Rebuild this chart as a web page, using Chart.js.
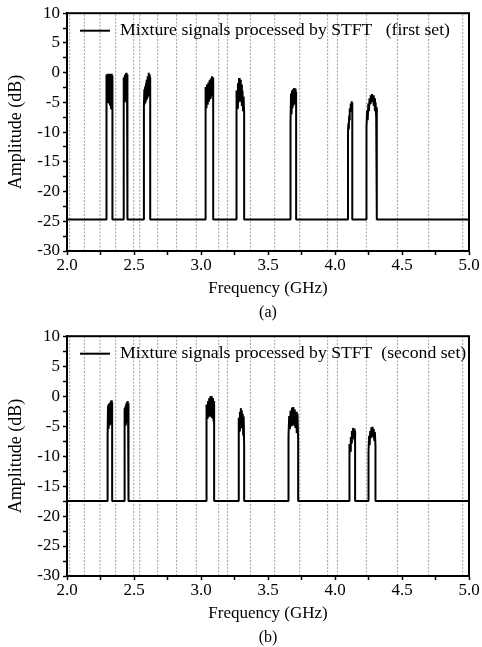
<!DOCTYPE html>
<html>
<head>
<meta charset="utf-8">
<script src="https://cdn.jsdelivr.net/npm/chart.js@4.4.1/dist/chart.umd.min.js"></script>
<style>
  html, body { margin: 0; padding: 0; background: #fff; }
  #wrap { position: relative; width: 482px; height: 647px; }
  #c1 { position: absolute; left: 0; top: 0; }
  #c2 { position: absolute; left: 0; top: 323px; }
</style>
</head>
<body>
<div id="wrap">
  <canvas id="c1" width="482" height="323"></canvas>
  <canvas id="c2" width="482" height="324"></canvas>
</div>
<script>
// ---------- data ----------
const xTickValues = [2.0, 2.5, 3.0, 3.5, 4.0, 4.5, 5.0];
const yTickValues = [-30, -25, -20, -15, -10, -5, 0, 5, 10];

// dotted vertical marker lines (GHz), same in both panels
const markerFreqs = [2.02, 2.13, 2.246, 2.363, 2.498, 2.543, 2.677, 2.818, 2.965,
                     3.132, 3.197, 3.369, 3.55, 3.737, 3.945, 4.018, 4.234, 4.466, 4.699, 4.953];

// (a) first set
const baselineA = -24.7;
const bandEdgesA = [[2.293, 2.339], [2.422, 2.451], [2.574, 2.621], [3.032, 3.091],
                    [3.263, 3.322], [3.668, 3.710], [4.097, 4.129], [4.235, 4.312]];
const bandLevelsA = [
  [-2.8, -0.3, -4.8, -0.2, -5.0, -0.4, -4.5, -0.2, -5.5, -0.3, -6.0, -0.2, -6.1, -0.5],
  [-6.7, -0.8, -4.8, -0.5, -5.0, -0.3, -4.5, -0.1, -4.6, 0.0, -5.2, -0.3],
  [-5.8, -2.8, -5.3, -2.3, -5.0, -1.8, -4.6, -1.2, -4.2, -0.6, -3.8, 0.0, -3.6, -0.3, -3.8, -0.8],
  [-6.5, -2.4, -6.0, -2.0, -5.4, -1.7, -4.9, -1.3, -4.3, -1.0, -3.8, -0.6, -3.3, -0.8],
  [-11.0, -3.0, -6.0, -1.8, -5.0, -0.9, -4.8, -1.2, -4.9, -2.0, -5.6, -3.0, -6.4, -4.0, -6.8],
  [-8.4, -3.5, -7.0, -3.0, -6.0, -2.8, -5.5, -2.6, -5.3, -2.7, -5.0, -3.2],
  [-10.0, -8.5, -9.5, -7.2, -8.0, -6.0, -6.5, -5.2, -5.8, -4.8, -5.3, -5.0],
  [-9.2, -6.4, -8.0, -5.2, -6.5, -4.3, -5.2, -3.8, -4.8, -3.6, -4.9, -3.8, -5.6, -4.3, -6.5, -5.0, -7.5, -5.8]
];

// (b) second set
const baselineB = -17.5;
const bandEdgesB = [[2.303, 2.337], [2.427, 2.459], [3.039, 3.098], [3.280, 3.322],
                    [3.653, 3.725], [4.106, 4.150], [4.250, 4.302]];
const bandLevelsB = [
  [-6.6, -1.6, -5.5, -1.3, -4.8, -1.1, -4.6, -0.9, -4.4, -0.7, -4.2, -1.0],
  [-6.0, -2.0, -5.4, -1.7, -4.9, -1.3, -4.5, -1.0, -4.4, -0.8, -4.2, -1.2],
  [-4.2, -1.4, -3.8, -0.8, -3.5, -0.3, -3.3, 0.0, -3.4, 0.0, -3.6, -0.3, -4.2, -0.8],
  [-8.5, -3.6, -5.8, -2.6, -5.2, -2.0, -5.0, -2.4, -5.3, -3.0, -6.5, -3.4, -8.3],
  [-6.6, -3.3, -5.5, -2.4, -4.9, -1.9, -4.7, -1.8, -4.8, -2.2, -5.3, -2.6, -6.2, -3.0, -7.2],
  [-10.4, -8.0, -9.2, -6.8, -7.8, -5.8, -7.0, -5.3, -6.8, -5.4, -7.4, -5.8],
  [-9.4, -6.6, -8.2, -5.8, -7.0, -5.2, -6.6, -5.1, -6.8, -5.5, -7.4, -6.0, -8.3]
];

const legendTextA = 'Mixture signals processed by STFT   (first set)';
const legendTextB = 'Mixture signals processed by STFT  (second set)';
const xTitle = 'Frequency (GHz)';
const yTitle = 'Amplitude (dB)';
const captionA = '(a)';
const captionB = '(b)';
const X_MIN = 2, X_MAX = 5, Y_MIN = -30, Y_MAX = 10;

// ---------- build helpers ----------
function buildSeries(baseline, edges, levels) {
  const pts = [{ x: X_MIN, y: baseline }];
  edges.forEach(([s, e], i) => {
    const vals = levels[i];
    const n = vals.length;
    pts.push({ x: s, y: baseline });
    vals.forEach((v, j) => pts.push({ x: s + (e - s) * j / (n - 1), y: v }));
    pts.push({ x: e, y: baseline });
  });
  pts.push({ x: X_MAX, y: baseline });
  return pts;
}

const FONT = "'Liberation Serif', 'Times New Roman', serif";

const framePlugin = {
  id: 'frame',
  afterDatasetsDraw(chart) {
    const { ctx, chartArea: a } = chart;
    ctx.save();
    ctx.strokeStyle = '#000';
    ctx.lineWidth = 2;
    ctx.strokeRect(a.left, a.top, a.right - a.left, a.bottom - a.top);
    ctx.restore();
  }
};

const inLegendPlugin = {
  id: 'inLegend',
  afterDraw(chart, args, opts) {
    const { ctx, chartArea: a } = chart;
    const y = a.top + 17.5;
    ctx.save();
    ctx.strokeStyle = '#000';
    ctx.lineWidth = 2;
    ctx.beginPath();
    ctx.moveTo(a.left + 13, y);
    ctx.lineTo(a.left + 43, y);
    ctx.stroke();
    ctx.fillStyle = '#000';
    ctx.font = '17px ' + FONT;
    ctx.textBaseline = 'middle';
    ctx.textAlign = 'left';
    ctx.translate(a.left + 53, y);
    ctx.scale(1.04, 1);
    ctx.fillText(opts.text, 0, 0);
    ctx.restore();
  }
};

function makeChart(id, series, legendText, caption, captionPadBottom) {
  const markerSets = markerFreqs.map(f => ({
    data: [{ x: f, y: Y_MIN }, { x: f, y: Y_MAX }],
    borderColor: '#a0a0a0', borderWidth: 1, borderDash: [2, 1.5],
    pointRadius: 0, tension: 0, order: 1
  }));
  return new Chart(document.getElementById(id), {
    type: 'line',
    data: {
      datasets: [{
        data: series, borderColor: '#000', borderWidth: 2, pointRadius: 0,
        tension: 0, borderJoinStyle: 'bevel', order: 0
      }, ...markerSets]
    },
    options: {
      responsive: false, animation: false, devicePixelRatio: 1,
      parsing: false, normalized: true,
      layout: { padding: { left: 0, right: 13, top: 12, bottom: 0 } },
      plugins: {
        legend: { display: false },
        tooltip: { enabled: false },
        title: {
          display: true, position: 'bottom', fullSize: false, text: caption, color: '#000',
          font: { family: FONT, size: 16, weight: 'normal' },
          padding: { top: 0, bottom: captionPadBottom }
        },
        inLegend: { text: legendText }
      },
      scales: {
        x: {
          type: 'linear', min: X_MIN, max: X_MAX,
          afterFit(s) { s.height = 51.8; },
          ticks: {
            stepSize: 0.25, autoSkip: false, maxRotation: 0, padding: 0,
            color: '#000', font: { family: FONT, size: 17 },
            callback: (v) => xTickValues.some(t => Math.abs(t - v) < 1e-6) ? v.toFixed(1) : ''
          },
          grid: { drawOnChartArea: false, tickLength: 4, tickColor: '#000', tickWidth: 1.5 },
          border: { color: '#000', width: 2 },
          title: {
            display: true, text: xTitle, color: '#000',
            font: { family: FONT, size: 17 }, padding: { top: 0, bottom: 3.8 }
          }
        },
        y: {
          type: 'linear', min: Y_MIN, max: Y_MAX,
          afterFit(s) { s.width = 67; },
          ticks: {
            stepSize: 2.5, autoSkip: false, padding: 3,
            color: '#000', font: { family: FONT, size: 17 },
            callback: (v) => yTickValues.some(t => Math.abs(t - v) < 1e-6) ? String(v) : ''
          },
          grid: { drawOnChartArea: false, tickLength: 4, tickColor: '#000', tickWidth: 1.5 },
          border: { color: '#000', width: 2 },
          title: {
            display: true, text: yTitle, color: '#000',
            font: { family: FONT, size: 18 }, padding: { top: 5.5, bottom: 0 }
          }
        }
      }
    },
    plugins: [framePlugin, inLegendPlugin]
  });
}

makeChart('c1', buildSeries(baselineA, bandEdgesA, bandLevelsA), legendTextA, captionA, 1);
makeChart('c2', buildSeries(baselineB, bandEdgesB, bandLevelsB), legendTextB, captionB, 0);
</script>
</body>
</html>
